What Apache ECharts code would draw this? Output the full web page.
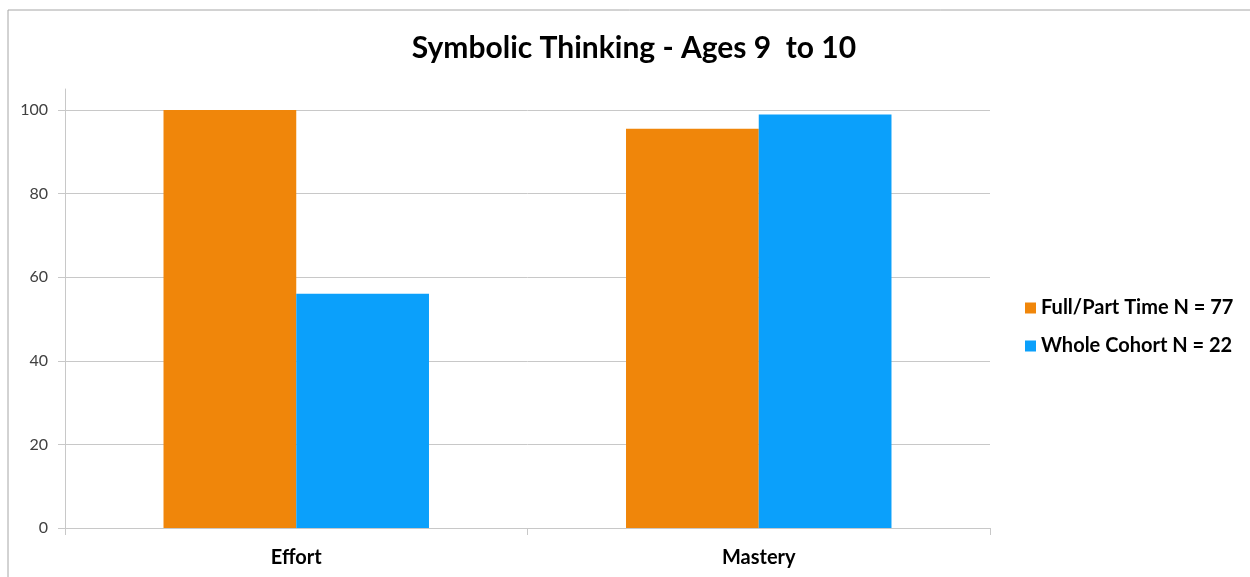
<!DOCTYPE html>
<html>
<head>
<meta charset="utf-8">
<script src="https://cdn.jsdelivr.net/npm/echarts@6/dist/echarts.min.js"></script>
<style>
  html, body { margin: 0; padding: 0; background: #fff; }
  #chart { width: 1250px; height: 577px; }
</style>
</head>
<body>
<div id="chart"></div>
<script>
const categories = ['Effort', 'Mastery'];
const fullPartTime = [100, 95.5];
const wholeCohort = [56, 98.9];
const yTicks = [0, 20, 40, 60, 80, 100];
const seriesNames = ['Full/Part Time N = 77', 'Whole Cohort N = 22'];

const myChart = echarts.init(document.getElementById('chart'));

const font = 'Lato, "Open Sans", sans-serif';
const option = {
  backgroundColor: '#fff',
  animation: false,
  graphic: [{
    type: 'rect',
    shape: { x: 8, y: 10, width: 1400, height: 700 },
    style: { fill: 'none', stroke: '#a6a6a6', lineWidth: 1 },
    silent: true
  }],
  title: {
    text: 'Symbolic Thinking - Ages 9  to 10',
    left: 629,
    top: 28,
    textAlign: 'center',
    textStyle: { fontFamily: font, fontSize: 30, fontWeight: 'bold', color: '#000' }
  },
  legend: {
    orient: 'vertical',
    left: 1020,
    top: 293,
    itemWidth: 11,
    itemHeight: 11,
    itemGap: 18,
    icon: 'rect',
    data: seriesNames,
    textStyle: { fontFamily: font, fontSize: 20, fontWeight: 'bold', color: '#000' }
  },
  grid: { left: 65, right: 260, top: 89, bottom: 49, containLabel: false },
  xAxis: {
    type: 'category',
    data: categories,
    axisLine: { lineStyle: { color: '#c8c8c8', width: 1 } },
    axisTick: { show: true, length: 7, lineStyle: { color: '#c8c8c8' } },
    axisLabel: { margin: 20, fontFamily: font, fontSize: 20, fontWeight: 'bold', color: '#000' }
  },
  yAxis: {
    type: 'value',
    min: 0,
    max: 105,
    interval: 20,
    axisLine: { show: true, lineStyle: { color: '#c8c8c8', width: 1 } },
    axisTick: { show: true, length: 7, customValues: yTicks, lineStyle: { color: '#c8c8c8' } },
    axisLabel: { customValues: yTicks, margin: 17, fontFamily: font, fontSize: 16, color: '#404040' },
    splitLine: { show: true, lineStyle: { color: '#c8c8c8', width: 1 } }
  },
  series: [
    {
      name: seriesNames[0],
      type: 'bar',
      data: fullPartTime,
      barWidth: '28.7%',
      barGap: '0%',
      itemStyle: { color: '#F0860A' }
    },
    {
      name: seriesNames[1],
      type: 'bar',
      data: wholeCohort,
      barWidth: '28.7%',
      barGap: '0%',
      itemStyle: { color: '#0BA0FB' }
    }
  ]
};

myChart.setOption(option);
window.onresize = () => {
  myChart.resize();
};
</script>
</body>
</html>
